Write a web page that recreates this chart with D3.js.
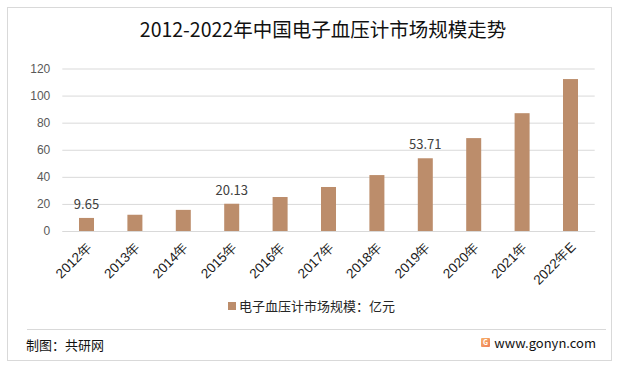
<!DOCTYPE html>
<html>
<head>
<meta charset="utf-8">
<script src="https://cdn.jsdelivr.net/npm/d3@7"></script>
<style>
  body { margin: 0; background: #fff; }
  svg { display: block; font-family: "Noto Sans CJK SC", "Noto Sans", sans-serif; }
</style>
</head>
<body>
<div class="chart"></div>
<script>
// Kategorier och värden
const years = ["2012年", "2013年", "2014年", "2015年", "2016年", "2017年", "2018年", "2019年", "2020年", "2021年", "2022年E"];
const marketSize = [9.65, 12.0, 15.6, 20.13, 25.1, 32.5, 41.3, 53.71, 68.6, 87.0, 112.2];
const labelled = ["9.65", "", "", "20.13", "", "", "", "53.71", "", "", ""];
const yTicks = [0, 20, 40, 60, 80, 100, 120];

const W = 619, H = 368;
const barColor = "#BC8D6B";

function createBarChart() {
    const margin = { top: 68.5, left: 62.3, right: W - 594.7, bottom: H - 231 };
    const width = W - margin.left - margin.right;
    const height = H - margin.top - margin.bottom;

    const svg = d3.select("div.chart").append("svg")
        .attr("width", W)
        .attr("height", H);

    // Ram runt hela figuren
    svg.append("rect")
        .attr("x", 7.5).attr("y", 7.5)
        .attr("width", 604).attr("height", 353)
        .attr("fill", "#fff")
        .attr("stroke", "#d9d9d9");

    // Rubrik
    svg.append("text")
        .attr("x", 323)
        .attr("y", 37)
        .attr("text-anchor", "middle")
        .attr("font-size", 19.5)
        .attr("fill", "#111")
        .text("2012-2022年中国电子血压计市场规模走势");

    const g = svg.append("g")
        .attr("transform", `translate(${margin.left},${margin.top})`);

    const x = d3.scaleBand()
        .domain(years)
        .range([0, width])
        .paddingInner(0.69)
        .paddingOuter(0.345);

    const y = d3.scaleLinear()
        .domain([0, 120])
        .range([height, 0]);

    // Stödlinjer och y-axel
    const yAxis = g.append("g")
        .call(d3.axisLeft(y).tickValues(yTicks).tickSize(-width).tickPadding(12));
    yAxis.select(".domain").remove();
    yAxis.selectAll(".tick line").attr("stroke", "#d9d9d9");
    yAxis.selectAll(".tick text")
        .attr("font-size", 12)
        .attr("fill", "#595959");

    // Staplar
    g.selectAll(".bar")
        .data(marketSize)
        .enter().append("rect")
        .attr("class", "bar")
        .attr("x", (d, i) => x(years[i]))
        .attr("width", x.bandwidth())
        .attr("y", d => y(d))
        .attr("height", d => height - y(d))
        .attr("fill", barColor);

    // Värdeetiketter
    g.selectAll(".value-label")
        .data(marketSize)
        .enter().append("text")
        .attr("class", "value-label")
        .attr("x", (d, i) => x(years[i]) + x.bandwidth() / 2)
        .attr("y", d => y(d) - 9)
        .attr("text-anchor", "middle")
        .attr("font-size", 13)
        .attr("fill", "#404040")
        .text((d, i) => labelled[i]);

    // x-axel
    const xAxis = g.append("g")
        .attr("transform", `translate(0,${height})`)
        .call(d3.axisBottom(x).tickSize(0).tickPadding(0));
    xAxis.select(".domain").attr("stroke", "#d9d9d9");
    xAxis.selectAll(".tick text")
        .attr("font-size", 13.5)
        .attr("fill", "#1a1a1a")
        .attr("text-anchor", "end")
        .attr("dy", 0)
        .attr("transform", "translate(6,17) rotate(-45)");

    // Teckenförklaring
    const legend = svg.append("g").attr("transform", "translate(228,302)");
    legend.append("rect")
        .attr("width", 8).attr("height", 8)
        .attr("fill", barColor);
    legend.append("text")
        .attr("x", 11)
        .attr("y", 4)
        .attr("dy", "0.35em")
        .attr("font-size", 13)
        .attr("fill", "#262626")
        .text("电子血压计市场规模：亿元");

    // Sidfot
    svg.append("line")
        .attr("x1", 27).attr("x2", 606)
        .attr("y1", 329.5).attr("y2", 329.5)
        .attr("stroke", "#d9d9d9");
    svg.append("text")
        .attr("x", 26).attr("y", 345)
        .attr("dy", "0.35em")
        .attr("font-size", 13)
        .attr("fill", "#111")
        .text("制图：共研网");

    const grad = svg.append("defs").append("linearGradient")
        .attr("id", "logo").attr("x1", 0).attr("y1", 0).attr("x2", 1).attr("y2", 1);
    grad.append("stop").attr("offset", 0).attr("stop-color", "#f7b267");
    grad.append("stop").attr("offset", 1).attr("stop-color", "#ef7d5a");
    svg.append("rect")
        .attr("x", 481).attr("y", 338)
        .attr("width", 9).attr("height", 9)
        .attr("rx", 1)
        .attr("fill", "url(#logo)");
    svg.append("text")
        .attr("x", 483).attr("y", 342.5)
        .attr("dy", "0.35em")
        .attr("font-size", 7)
        .attr("font-weight", "bold")
        .attr("fill", "#fff")
        .text("G");
    svg.append("text")
        .attr("x", 596).attr("y", 343)
        .attr("dy", "0.35em")
        .attr("text-anchor", "end")
        .attr("font-size", 13)
        .attr("fill", "#111")
        .text("www.gonyn.com");
}

createBarChart();
</script>
</body>
</html>
